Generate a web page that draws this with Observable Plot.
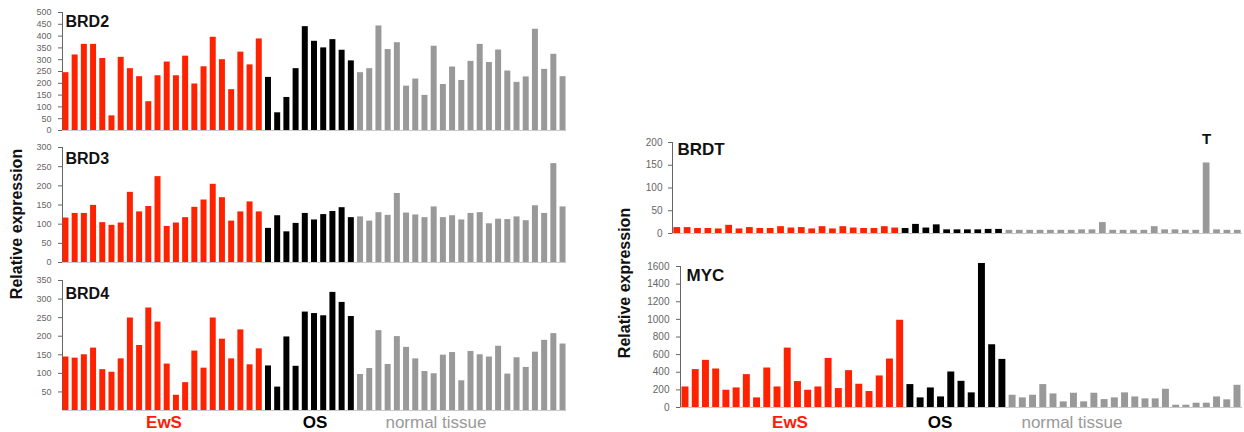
<!DOCTYPE html>
<html>
<head>
<meta charset="utf-8">
<script src="https://cdn.jsdelivr.net/npm/d3@7"></script>
<script src="https://cdn.jsdelivr.net/npm/@observablehq/plot@0.6"></script>
<style>
  html, body { margin: 0; padding: 0; background: #fff; }
  #root { position: relative; width: 1244px; height: 432px; overflow: hidden; font-family: "Liberation Sans", Arial, sans-serif; }
  #root svg { position: absolute; }
</style>
</head>
<body>
<div id="root"></div>
<script>
// ---- categories ----
const groupNames = ["EwS", "OS", "normal tissue"];
const groupSizes = [22, 10, 23];
const groupColors = ["#ff2200", "#000000", "#999999"];
const labelColors = ["#ff1a0a", "#000000", "#999999"];

// ---- series values (left block) ----
const brd2 = [245,320,365,365,305,62,310,262,228,122,232,290,232,315,197,270,395,300,173,332,278,388,
              225,75,140,262,440,378,350,385,340,295,
              245,262,443,343,372,188,218,149,357,195,269,212,293,365,288,341,252,204,227,429,259,323,228];
const brd3 = [116,128,128,149,104,97,103,183,132,146,224,94,103,117,144,163,204,169,108,132,158,132,
              89,122,80,102,128,111,125,133,143,117,
              119,108,130,123,180,129,124,117,145,117,122,111,128,130,101,113,112,119,109,148,128,258,145];
const brd4 = [144,141,150,168,110,103,139,249,175,276,238,125,41,75,160,114,249,192,139,217,123,166,
              120,63,198,119,265,261,255,318,291,253,
              97,113,215,124,199,170,139,105,99,149,156,80,159,150,144,173,98,142,116,157,189,207,179];

// ---- series values (right block) ----
const brdt = [13,13,11,11,10,18,10,13,11,11,15,12,13,10,15,10,15,12,11,11,15,12,
              11,20,12,19,8,8,8,8,9,9,
              7,7,7,7,7,7,7,8,8,24,7,7,7,7,15,8,8,7,7,155,8,7,7];
const myc = [233,430,535,437,196,222,373,109,448,233,674,294,196,233,557,215,418,264,181,358,550,990,
             260,109,222,120,403,297,166,1634,712,546,
             139,109,139,260,154,64,162,64,162,90,109,166,120,98,98,207,26,26,49,49,120,87,252];
const brdtMarkIndex = 51;
const brdtMarkText = "T";

// ---- tick labels ----
const brd2Ticks = [0,50,100,150,200,250,300,350,400,450,500];
const brd3Ticks = [0,50,100,150,200,250,300];
const brd4Ticks = [50,100,150,200,250,300,350];
const brdtTicks = [0,50,100,150,200];
const mycTicks = [0,200,400,600,800,1000,1200,1400,1600];

const FONT = '"Liberation Sans", Arial, sans-serif';
const groupOf = [];
groupSizes.forEach((n, g) => { for (let k = 0; k < n; k++) groupOf.push(groupNames[g]); });
const root = document.getElementById("root");

function panel(cfg) {
  const rows = cfg.values.map((v, i) => ({i, v, g: groupOf[i]}));
  const marks = [
    Plot.ruleY([0], {stroke: "#c8c8c8"}),
    Plot.barY(rows, {x: "i", y: "v", fill: "g"}),
    Plot.text([cfg.title], {frameAnchor: "top-left", textAnchor: "start", lineAnchor: "top",
      dx: cfg.tdx, dy: cfg.tdy, fontWeight: "bold", fontSize: cfg.tsize, fill: "#111", fontFamily: FONT})
  ];
  if (cfg.mark) {
    marks.push(Plot.text([rows[cfg.mark.index]], {x: "i", y: "v", text: () => cfg.mark.text,
      dy: -24, fontWeight: "bold", fontSize: 15, fill: "#111", fontFamily: FONT}));
  }
  const svg = Plot.plot({
    width: cfg.width, height: cfg.height,
    marginLeft: cfg.ml, marginRight: cfg.mr, marginTop: cfg.mt, marginBottom: cfg.mb,
    style: {fontFamily: FONT, fontSize: cfg.fs + "px", color: "#666", background: "transparent", overflow: "visible"},
    x: {type: "band", domain: d3.range(cfg.values.length), paddingInner: cfg.pi, paddingOuter: cfg.po, round: false, axis: null},
    y: {domain: [0, cfg.ymax], ticks: cfg.ticks, tickFormat: d3.format("d"), tickSize: 4, tickPadding: cfg.tp, line: true, label: null},
    color: {domain: groupNames, range: groupColors},
    marks
  });
  svg.style.left = cfg.left + "px";
  svg.style.top = cfg.top + "px";
  root.appendChild(svg);
}

const L = {left: 0, width: 600, ml: 62, mr: 34, pi: 0.35, po: 0.05, fs: 9, tp: 7, tsize: 16, tdx: 3};
panel({...L, title: "BRD2", values: brd2, ymax: 500, ticks: brd2Ticks, top: 0, height: 134, mt: 12, mb: 4, tdy: 3});
panel({...L, title: "BRD3", values: brd3, ymax: 300, ticks: brd3Ticks, top: 140, height: 126, mt: 7, mb: 4, tdy: 5});
panel({...L, title: "BRD4", values: brd4, ymax: 350, ticks: brd4Ticks, top: 272, height: 142, mt: 8, mb: 4, tdy: 7});

panel({title: "BRDT", values: brdt, ymax: 200, ticks: brdtTicks, left: 600, width: 644, ml: 72, mr: 2,
  pi: 0.35, po: 0.13, fs: 10, tp: 6, tsize: 17, tdx: 5, tdy: 0, top: 126, height: 111, mt: 16, mb: 4,
  mark: {index: brdtMarkIndex, text: brdtMarkText}});
panel({title: "MYC", values: myc, ymax: 1600, ticks: mycTicks, left: 600, width: 644, ml: 80, mr: 2,
  pi: 0.32, po: 0.15, fs: 10, tp: 7, tsize: 17, tdx: 6, tdy: 2, top: 258, height: 153, mt: 8, mb: 4});

// ---- overlay text: group labels and y-axis titles ----
const overlay = d3.select(root).append("svg")
  .attr("width", 1244).attr("height", 432)
  .style("left", "0px").style("top", "0px")
  .style("font-family", FONT);
const groupLabelX = {left: [164, 315, 436], right: [790, 940, 1072]};
["left", "right"].forEach(side => {
  groupNames.forEach((name, g) => {
    overlay.append("text")
      .attr("x", groupLabelX[side][g]).attr("y", 428)
      .attr("text-anchor", "middle")
      .attr("font-size", 17)
      .attr("font-weight", g === 2 ? "normal" : "bold")
      .attr("fill", labelColors[g])
      .text(name);
  });
});
[[16, 224], [624, 283]].forEach(([x, y]) => {
  overlay.append("text")
    .attr("transform", `translate(${x + 6},${y}) rotate(-90)`)
    .attr("text-anchor", "middle")
    .attr("font-size", 16).attr("font-weight", "bold").attr("fill", "#111")
    .text("Relative expression");
});
</script>
</body>
</html>
